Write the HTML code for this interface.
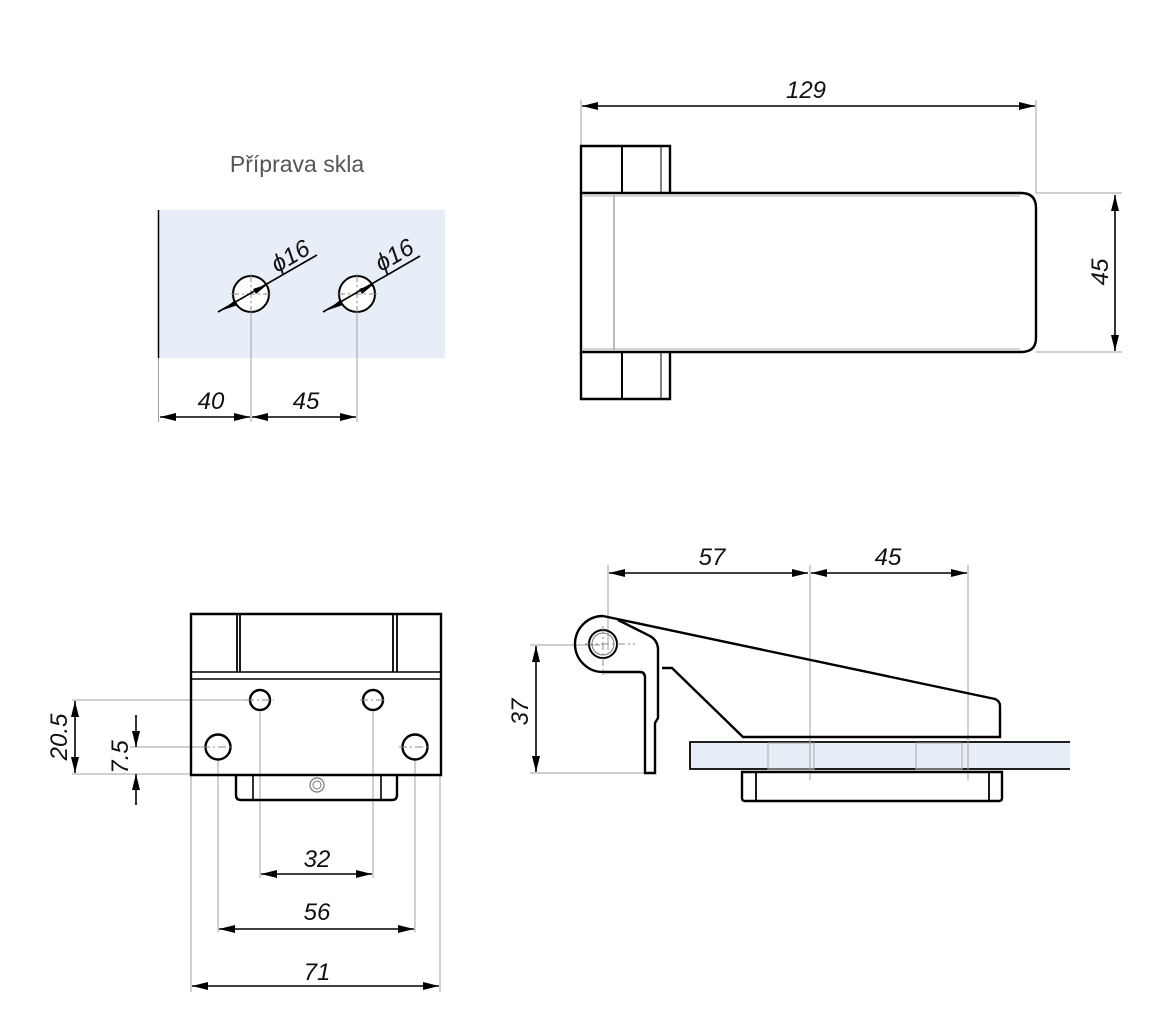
<!DOCTYPE html>
<html><head><meta charset="utf-8"><style>html,body{margin:0;padding:0;background:#fff}svg{display:block}</style></head>
<body>
<svg width="1160" height="1024" viewBox="0 0 1160 1024" xmlns="http://www.w3.org/2000/svg">
<defs>
<marker id="a" viewBox="0 0 16 8" refX="16" refY="4" markerWidth="16" markerHeight="8" markerUnits="userSpaceOnUse" orient="auto-start-reverse"><path d="M0,0 L16,4 L0,8 z" fill="#000"/></marker>
</defs>
<style>
.t{font-family:"Liberation Sans",sans-serif;font-style:italic;font-size:24px;fill:#111}
.o{fill:none;stroke:#000;stroke-width:2.4}
.e{stroke:#a0a0a0;stroke-width:1;fill:none}
.d{stroke:#000;stroke-width:1.6;fill:none}
.c{stroke:#888;stroke-width:1;stroke-dasharray:8 3 2 3;fill:none}
</style>

<!-- Top left: glass preparation -->
<text x="297" y="172" text-anchor="middle" style="font-family:'Liberation Sans',sans-serif;font-size:23px;fill:#555">Příprava skla</text>
<rect x="158" y="210" width="287" height="148" fill="#e8eef7"/>
<line x1="158.5" y1="210" x2="158.5" y2="358" stroke="#000" stroke-width="1.5"/>
<circle cx="251" cy="294" r="18" fill="#fff" stroke="#000" stroke-width="2"/>
<circle cx="357" cy="294" r="18" fill="#fff" stroke="#000" stroke-width="2"/>
<path class="c" d="M231,294H271M251,274V314M337,294H377M357,274V314"/>
<line class="d" x1="218" y1="312" x2="317" y2="255"/>
<line class="d" x1="323" y1="312" x2="420" y2="256"/>
<path d="M223,310 l12,-10 l3,5 z M268,284 l-12,10 l-3,-5 z M328,310 l12,-10 l3,5 z M374,284 l-12,10 l-3,-5 z" fill="#000"/>
<text class="t" transform="translate(277,273) rotate(-30)">ϕ16</text>
<text class="t" transform="translate(381,272) rotate(-30)">ϕ16</text>
<path class="e" d="M158.5,358V422M251,312V422M357,312V422"/>
<line class="d" x1="160" y1="417" x2="250" y2="417" marker-start="url(#a)" marker-end="url(#a)"/>
<line class="d" x1="252" y1="417" x2="356" y2="417" marker-start="url(#a)" marker-end="url(#a)"/>
<text class="t" x="211" y="409" text-anchor="middle">40</text>
<text class="t" x="306" y="409" text-anchor="middle">45</text>

<!-- Top right view -->
<path class="e" d="M581,100V146M1036,100V193M1036,193H1122M1036,352H1122"/>
<line class="d" x1="582" y1="106" x2="1035" y2="106" marker-start="url(#a)" marker-end="url(#a)"/>
<text class="t" x="806" y="98" text-anchor="middle">129</text>
<line class="d" x1="1115" y1="195" x2="1115" y2="351" marker-start="url(#a)" marker-end="url(#a)"/>
<text class="t" transform="translate(1108,272) rotate(-90)" text-anchor="middle">45</text>
<path class="o" d="M581,193V146H670V193M581,352V399H670V352"/>
<line x1="622" y1="146" x2="622" y2="193" stroke="#000" stroke-width="2"/>
<line x1="622" y1="352" x2="622" y2="399" stroke="#000" stroke-width="2"/>
<line x1="661" y1="146" x2="661" y2="193" stroke="#000" stroke-width="1"/>
<line x1="661" y1="352" x2="661" y2="399" stroke="#000" stroke-width="1"/>
<path class="o" d="M581,193H1021Q1036,193 1036,208V338Q1036,352 1021,352H581Z"/>
<line x1="614" y1="195" x2="614" y2="350" stroke="#777" stroke-width="1"/>
<line x1="583" y1="196" x2="1020" y2="196" stroke="#aaa" stroke-width="1"/>
<line x1="583" y1="349" x2="1020" y2="349" stroke="#aaa" stroke-width="1"/>

<!-- Bottom left view -->
<path class="e" d="M72,700H250M130,747H205M72,774H191M191,775V992M218,760V932M260,712V878M373,712V878M415,760V932M440,775V992"/>
<path class="o" d="M191,775V614H441V775Z"/>
<path d="M191,672H441M191,679H441" stroke="#000" stroke-width="1.6" fill="none"/>
<path d="M237,614V672M240,614V672M393,614V672M397,614V672" stroke="#000" stroke-width="1.8"/>
<path class="o" d="M236,775V795Q236,800 241,800H392Q397,800 397,795V775"/>
<path d="M253,775V800M381,775V800" stroke="#000" stroke-width="1.6"/>
<circle cx="317" cy="785" r="7" fill="none" stroke="#777" stroke-width="1.2"/>
<circle cx="317" cy="785" r="4" fill="none" stroke="#777" stroke-width="1"/>
<circle cx="260" cy="700" r="10" fill="#fff" stroke="#000" stroke-width="2.4"/>
<circle cx="373" cy="700" r="10" fill="#fff" stroke="#000" stroke-width="2.4"/>
<circle cx="218" cy="747" r="12.5" fill="#fff" stroke="#000" stroke-width="2.4"/>
<circle cx="415" cy="747" r="12.5" fill="#fff" stroke="#000" stroke-width="2.4"/>
<path class="c" d="M246,700H274M360,700H387M202,747H234M399,747H431"/>
<line class="d" x1="75" y1="701" x2="75" y2="773" marker-start="url(#a)" marker-end="url(#a)"/>
<text class="t" transform="translate(67,737) rotate(-90)" text-anchor="middle">20.5</text>
<line class="d" x1="136" y1="715" x2="136" y2="747" marker-end="url(#a)"/>
<line class="d" x1="136" y1="805" x2="136" y2="774" marker-end="url(#a)"/>
<text class="t" transform="translate(128,757) rotate(-90)" text-anchor="middle">7.5</text>
<line class="d" x1="261" y1="874" x2="372" y2="874" marker-start="url(#a)" marker-end="url(#a)"/>
<text class="t" x="317" y="867" text-anchor="middle">32</text>
<line class="d" x1="219" y1="929" x2="414" y2="929" marker-start="url(#a)" marker-end="url(#a)"/>
<text class="t" x="317" y="920" text-anchor="middle">56</text>
<line class="d" x1="192" y1="986" x2="439" y2="986" marker-start="url(#a)" marker-end="url(#a)"/>
<text class="t" x="317" y="980" text-anchor="middle">71</text>

<!-- Bottom right view -->
<rect x="690" y="742" width="380" height="27" fill="#e8eef7"/>
<path d="M1070,742H690V769H1070" fill="none" stroke="#000" stroke-width="1.8"/>
<rect x="768" y="743" width="46" height="26" fill="none" stroke="#aaa" stroke-width="1"/>
<rect x="916" y="743" width="46" height="26" fill="none" stroke="#aaa" stroke-width="1"/>
<path class="e" d="M608,565V650M810,565V780M968,565V780M530,645H600M530,773H655"/>
<line class="d" x1="609" y1="573" x2="808" y2="573" marker-start="url(#a)" marker-end="url(#a)"/>
<line class="d" x1="811" y1="573" x2="967" y2="573" marker-start="url(#a)" marker-end="url(#a)"/>
<text class="t" x="712" y="565" text-anchor="middle">57</text>
<text class="t" x="888" y="565" text-anchor="middle">45</text>
<line class="d" x1="536" y1="646" x2="536" y2="772" marker-start="url(#a)" marker-end="url(#a)"/>
<text class="t" transform="translate(528,712) rotate(-90)" text-anchor="middle">37</text>
<path class="o" d="M603,616L995,699Q1000,701 1000,706V737H743L672,668H662"/>
<path class="o" d="M603,616A28,28 0 0 0 603,672H640Q645,672 645,678V773H655V723L658,718V648Q657,640 650,636L618,620"/>
<circle cx="603" cy="644" r="14" fill="none" stroke="#000" stroke-width="2"/>
<circle cx="603" cy="644" r="11" fill="none" stroke="#777" stroke-width="1"/>
<path class="c" d="M585,644H635M603,626V675"/>
<path class="o" d="M742,772V798Q742,801 745,801H999Q1002,801 1002,798V772Z"/>
<path d="M756,772V801M989,772V801" stroke="#000" stroke-width="1.8"/>
</svg>
</body></html>
